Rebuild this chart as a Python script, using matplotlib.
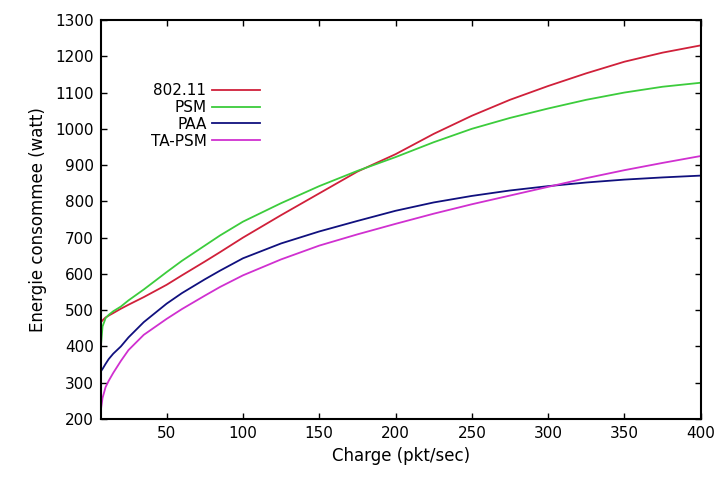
import numpy as np
import matplotlib.pyplot as plt

# load (pkt/sec) and energy (watt)
charge = [7, 8, 10, 12, 15, 20, 25, 35, 50, 60, 75, 85, 100, 125, 150, 175, 200, 225, 250, 275, 300, 325, 350, 375, 400]
e_80211 = [467, 472, 480, 485, 492, 504, 515, 536, 570, 596, 634, 660, 700, 762, 822, 882, 930, 986, 1036, 1080, 1118, 1153, 1185, 1210, 1230]
e_psm = [405, 455, 478, 487, 497, 510, 527, 557, 605, 636, 678, 706, 744, 795, 842, 884, 922, 963, 1000, 1030, 1056, 1080, 1100, 1116, 1127]
e_paa = [332, 338, 352, 365, 380, 400, 425, 467, 518, 547, 585, 609, 643, 684, 717, 746, 774, 797, 815, 830, 842, 852, 860, 866, 871]
e_tapsm = [228, 258, 288, 305, 327, 360, 390, 432, 476, 503, 540, 564, 596, 640, 678, 709, 738, 766, 792, 816, 840, 864, 886, 906, 925]

labels = ["802.11", "PSM", "PAA", "TA-PSM"]
colors = ["#d0203a", "#3ccc3c", "#10107e", "#d030d0"]
series = [e_80211, e_psm, e_paa, e_tapsm]

plt.rcParams['font.family'] = ['DejaVu Sans']

fig = plt.figure(figsize=(7.2, 4.83), dpi=100)
ax = fig.add_axes([0.1403, 0.1325, 0.8329, 0.8261])

for y, lab, c in zip(series, labels, colors):
    ax.plot(charge, y, color=c, lw=1.3, label=lab)

ax.set_xlim(7, 400)
ax.set_ylim(200, 1300)
ax.set_xticks(np.arange(50, 401, 50))
ax.set_yticks(np.arange(200, 1301, 100))
ax.tick_params(direction='in', top=True, right=True, length=4, width=1, labelsize=11, pad=5)
for s in ax.spines.values():
    s.set_linewidth(1.5)

ax.set_xlabel("Charge (pkt/sec)", fontsize=12, labelpad=4)
ax.set_ylabel("Energie consommee (watt)", fontsize=12, labelpad=6)

ax.legend(loc='upper right', bbox_to_anchor=(0.265, 0.842), frameon=False, markerfirst=False,
          fontsize=11, handlelength=3.15, handletextpad=0.35, labelspacing=0.12,
          borderpad=0, borderaxespad=0)

fig.savefig("out.png", dpi=100)
